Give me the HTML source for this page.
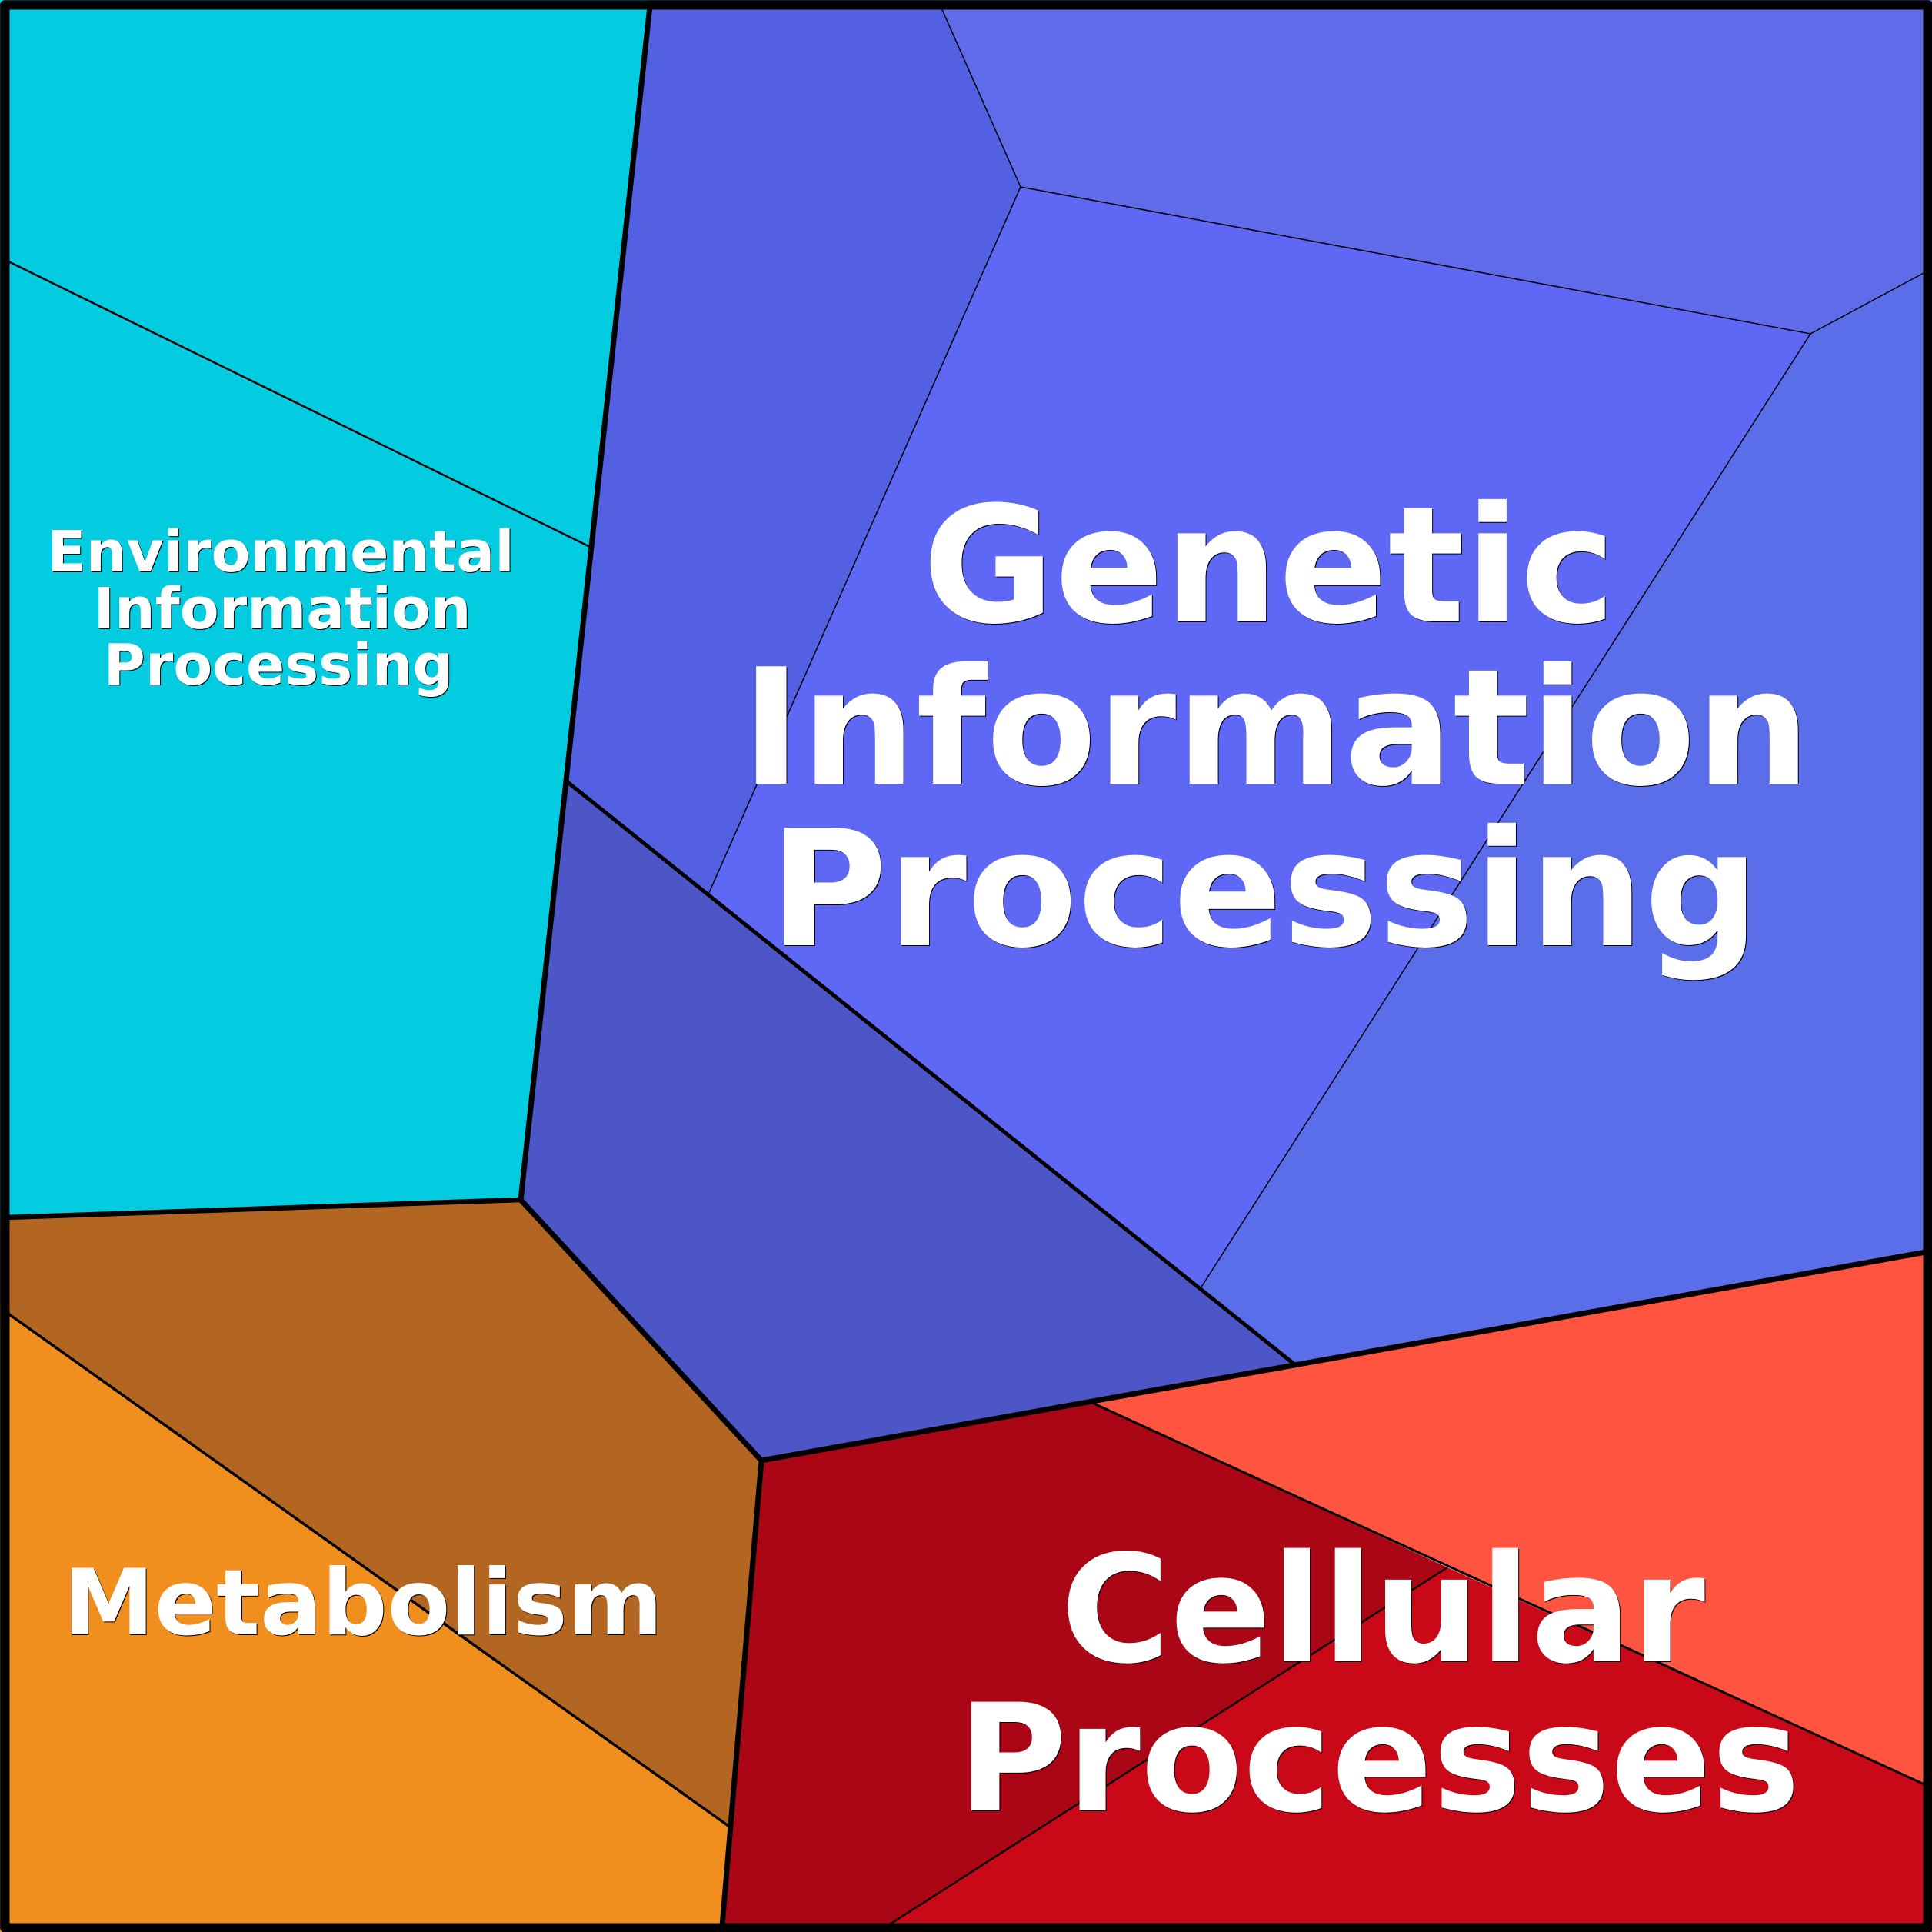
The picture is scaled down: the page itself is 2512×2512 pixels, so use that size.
<!DOCTYPE html>
<html><head><meta charset="utf-8"><style>
html,body{margin:0;padding:0;background:#fff}
svg{display:block}
text{font-family:"DejaVu Sans","Liberation Sans",sans-serif;font-weight:700;fill:#fff;text-anchor:middle;filter:drop-shadow(1px 1px 0 #000)}
</style></head><body>
<svg xmlns="http://www.w3.org/2000/svg" width="2512" height="2512" viewBox="0 0 2512 2512">
<!-- cells -->
<polygon points="0,0 845,0 767,711 0,340" fill="#03cbe0"/>
<polygon points="0,340 767,711 677,1560 0,1583" fill="#03cbe0"/>
<polygon points="845,0 1220,0 1327,243 921,1163 738,1017" fill="#5460e2"/>
<polygon points="1220,0 2512,0 2512,349 2354,434 1327,243" fill="#5f6be8"/>
<polygon points="1327,243 2354,434 1561,1675 921,1163" fill="#5f68f5"/>
<polygon points="2354,434 2512,349 2512,1627 1682,1773 1561,1675" fill="#5b6eea"/>
<polygon points="738,1017 1682,1773 990,1899 677,1560" fill="#4d56c7"/>
<polygon points="0,1583 677,1560 990,1899 947,2374 0,1701" fill="#b26622"/>
<polygon points="0,1701 947,2374 939,2512 0,2512" fill="#f18f1e"/>
<polygon points="1418,1823 2512,1627 2512,2325" fill="#ff5540"/>
<polygon points="990,1899 1418,1823 1882,2038 1141,2512 939,2512" fill="#aa0616"/>
<polygon points="1882,2038 2512,2325 2512,2512 1141,2512" fill="#c90818"/>
<!-- thin lines -->
<g fill="none" stroke="#000" stroke-linecap="butt">
<path d="M11,340 L767,711" stroke-width="2.5"/>
<path d="M5,1704 L947,2374" stroke-width="3.5"/>
<path d="M1223,8 L1327,243 L921,1163" stroke-width="1.5"/>
<path d="M1327,243 L2354,434 L2504,353.5" stroke-width="1.5"/>
<path d="M2354,434 L1561,1675" stroke-width="1.5"/>
<path d="M1418,1823 L2504,2321" stroke-width="3"/>
<path d="M1882,2038 L1147.5,2508" stroke-width="2.5"/>
<path d="M738,1017 L1682,1773" stroke-width="5"/>
<!-- thick lines -->
<path d="M845,8 L677,1560 L990,1899 L939,2504" stroke-width="7" stroke-linejoin="miter"/>
<path d="M8,1583 L677,1560" stroke-width="6.5"/>
<path d="M990,1899 L2504,1628" stroke-width="7"/>
<rect x="6.35" y="6.35" width="2500.3" height="2500.3" stroke-width="12.3" stroke-linejoin="round"/>
</g>
<!-- labels -->
<text font-size="209.5"><tspan x="1650" y="808">Genetic</tspan><tspan x="1659" y="1019">Information</tspan><tspan x="1644" y="1229">Processing</tspan></text>
<text font-size="194"><tspan x="1798" y="2160">Cellular</tspan><tspan x="1793" y="2354">Processes</tspan></text>
<text font-size="119" x="472" y="2125">Metabolism</text>
<text font-size="74"><tspan x="365" y="743">Environmental</tspan><tspan x="367" y="817">Information</tspan><tspan x="362" y="890">Processing</tspan></text>
</svg>
</body></html>
